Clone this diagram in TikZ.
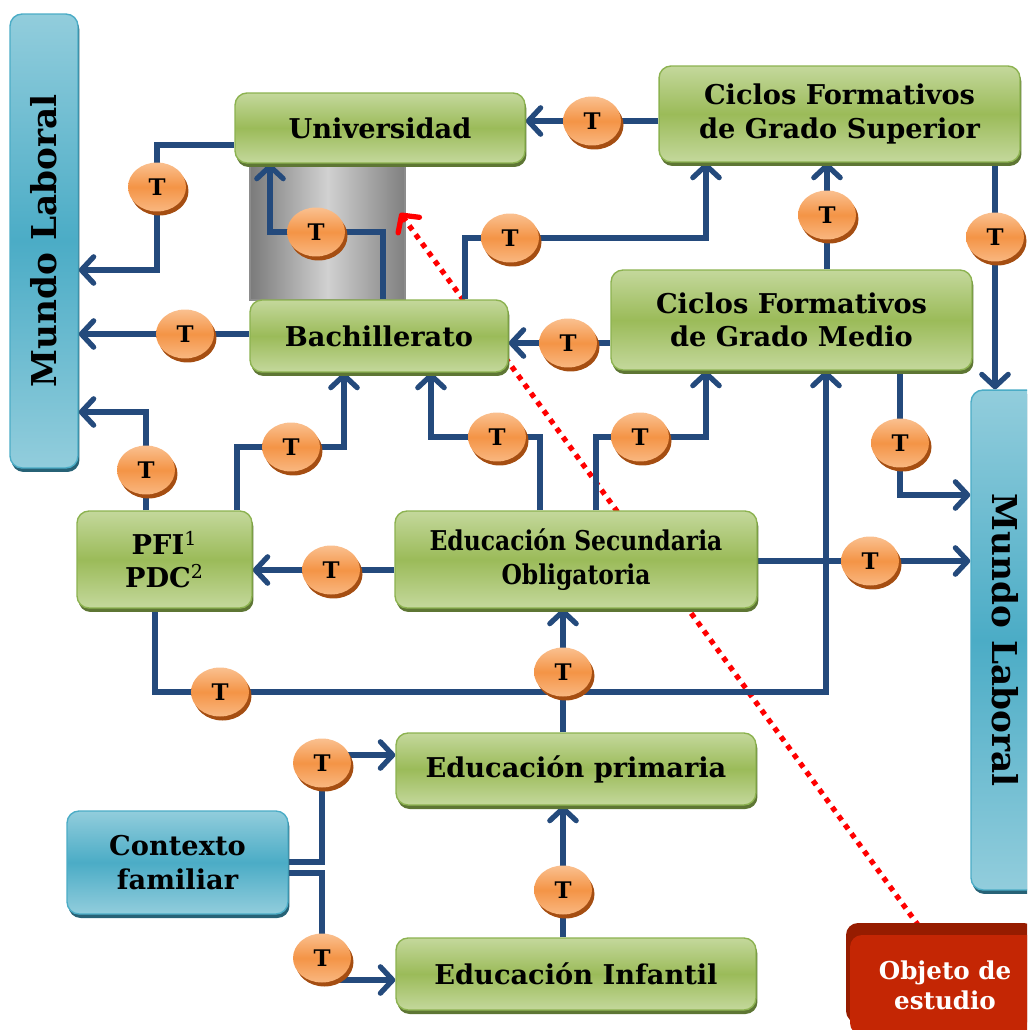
\documentclass[tikz,border=0pt]{standalone}
\usepackage{fontspec}
\setmainfont{DejaVu Serif}
\newfontfamily\tightserif{DejaVu Serif}[FakeStretch=0.86]
\usepackage{tikz}
\usetikzlibrary{arrows.meta,shapes.geometric,shadows}
\definecolor{linkblue}{RGB}{36,74,124}
\definecolor{greenlight}{RGB}{196,216,156}
\definecolor{greenmid}{RGB}{155,187,89}
\definecolor{greenedge}{RGB}{140,178,80}
\definecolor{greenshadow}{RGB}{94,118,52}
\definecolor{bluelight}{RGB}{146,205,220}
\definecolor{bluemid}{RGB}{75,172,198}
\definecolor{blueshadow}{RGB}{39,98,118}
\definecolor{orangelight}{RGB}{250,192,143}
\definecolor{orangemid}{RGB}{244,148,70}
\definecolor{orangeshadow}{RGB}{165,78,18}
\definecolor{studyred}{RGB}{196,38,4}
\definecolor{studyshadow}{RGB}{150,28,0}
\pgfdeclarelayer{bg}
\pgfdeclarelayer{links}
\pgfsetlayers{bg,links,main}
\tikzset{
  stage/.style={rectangle, rounded corners=0.24cm, draw=greenedge, line width=0.8pt,
    top color=greenlight, bottom color=greenlight, middle color=greenmid,
    drop shadow={shadow xshift=0.03cm, shadow yshift=-0.08cm, fill=greenshadow, opacity=1},
    align=center, font=\bfseries\fontsize{15.5pt}{19pt}\selectfont},
  world/.style={rectangle, rounded corners=0.24cm, draw=bluemid, line width=0.8pt,
    top color=bluelight, bottom color=bluelight, middle color=bluemid,
    drop shadow={shadow xshift=0.03cm, shadow yshift=-0.08cm, fill=blueshadow, opacity=1},
    align=center, font=\bfseries\fontsize{19.5pt}{22pt}\selectfont},
  famctx/.style={world, font=\bfseries\fontsize{15.5pt}{19pt}\selectfont},
  studybox/.style={rectangle, rounded corners=0.24cm, fill=studyred,
    drop shadow={shadow xshift=-0.08cm, shadow yshift=0.24cm, fill=studyshadow, opacity=1},
    text=white, align=center, font=\bfseries\fontsize{14pt}{17pt}\selectfont},
  tbadge/.style={ellipse, minimum width=1.16cm, minimum height=0.98cm, inner sep=0pt,
    top color=orangelight, bottom color=orangelight!80!orangemid, middle color=orangemid,
    drop shadow={shadow xshift=0.05cm, shadow yshift=-0.08cm, fill=orangeshadow, opacity=1},
    font=\bfseries\fontsize{13pt}{13pt}\selectfont},
  link/.style={draw=linkblue, line width=3pt, -{Straight Barb[length=7pt,width=15pt,round]}},
  studylink/.style={draw=red, line width=3pt, dash pattern=on 3pt off 3.2pt,
    -{Straight Barb[length=7pt,width=15pt,round]}}
}

\begin{document}
\begin{tikzpicture}[x=0.02cm, y=-0.02cm]
    \useasboundingbox (0,0) rectangle (1027,1030);
    \clip (0,0) rectangle (1027,1030);

    \node[world, minimum width=1.36cm, minimum height=9.08cm] (mlL) at (44,241) {\rotatebox{90}{Mundo Laboral}};
    \node[world, minimum width=1.36cm, minimum height=10cm] (mlR) at (1005,640) {\rotatebox{-90}{Mundo Laboral}};

    \node[stage, minimum width=5.8cm, minimum height=1.4cm] (univ) at (380,128) {Universidad};
    \node[stage, minimum width=7.22cm, minimum height=1.92cm] (cfgs) at (839.5,114) {Ciclos Formativos\\de Grado Superior};
    \node[stage, minimum width=5.16cm, minimum height=1.44cm] (bach) at (379,336) {Bachillerato};
    \node[stage, minimum width=7.22cm, minimum height=2cm] (cfgm) at (791.5,320) {Ciclos Formativos\\de Grado Medio};
    \node[stage, minimum width=3.5cm, minimum height=1.94cm] (pfi) at (164.5,559.5) {PFI\textsuperscript{\mdseries 1}\\PDC\textsuperscript{\mdseries 2}};
    \node[stage, minimum width=7.24cm, minimum height=1.94cm] (eso) at (576,559.5) {\tightserif\bfseries Educación Secundaria\\\tightserif\bfseries Obligatoria};
    \node[stage, minimum width=7.2cm, minimum height=1.44cm] (prim) at (576,769) {Educación primaria};
    \node[stage, minimum width=7.2cm, minimum height=1.44cm] (inf) at (576,974) {Educación Infantil};
    \node[famctx, minimum width=4.42cm, minimum height=2.06cm] (ctx) at (177.5,862.5) {Contexto\\familiar};
    \node[studybox, minimum width=3.8cm, minimum height=2cm] (obj) at (945,985) {Objeto de\\estudio};

    \node[tbadge] (b1) at (157,187) {T};
    \node[tbadge] (b2) at (316,232) {T};
    \node[tbadge] (b3) at (510,238) {T};
    \node[tbadge] (b4) at (592,121) {T};
    \node[tbadge] (b5) at (827,215) {T};
    \node[tbadge] (b6) at (995,237) {T};
    \node[tbadge] (b7) at (185,334) {T};
    \node[tbadge] (b8) at (568,343) {T};
    \node[tbadge] (b9) at (146,470) {T};
    \node[tbadge] (b10) at (291,447) {T};
    \node[tbadge] (b11) at (497,437) {T};
    \node[tbadge] (b12) at (640,437) {T};
    \node[tbadge] (b13) at (900,443) {T};
    \node[tbadge] (b14) at (331,570) {T};
    \node[tbadge] (b15) at (870,561) {T};
    \node[tbadge] (b16) at (220,692) {T};
    \node[tbadge] (b17) at (563,672) {T};
    \node[tbadge] (b18) at (322,763) {T};
    \node[tbadge] (b19) at (322,958) {T};
    \node[tbadge] (b20) at (563,890) {T};

    \coordinate (focus) at (400,213);

    \begin{pgfonlayer}{bg}
        \shade[left color=black!52, right color=black!50, middle color=black!18, draw=black!45, line width=0.6pt] (250,163) rectangle (405,300);
        \draw[studylink] (obj.north -| 925,0) -- (focus);
    \end{pgfonlayer}

    \begin{pgfonlayer}{links}
        \draw[link] (univ.west |- 0,145) -| (b1.center) |- (mlL.east |- 0,270);
        \draw[link] (bach.north -| 383,0) |- (b2.center) -| (univ.south -| 270,0);
        \draw[link] (bach.north -| 465,0) |- (b3.center) -| (cfgs.south -| 706,0);
        \draw[link] (cfgs.west |- b4) -- (univ.east |- b4);
        \draw[link] (cfgm.north -| b5) -- (cfgs.south -| b5);
        \draw[link] (cfgs.south -| b6) -- (mlR.north -| b6);
        \draw[link] (bach.west |- b7) -- (mlL.east |- b7);
        \draw[link] (cfgm.west |- b8) -- (bach.east |- b8);
        \draw[link] (pfi.north -| b9) -- (b9.center) |- (mlL.east |- 0,412);
        \draw[link] (pfi.north -| 237,0) |- (b10.center) -| (bach.south -| 344,0);
        \draw[link] (eso.north -| 540,0) |- (b11.center) -| (bach.south -| 431,0);
        \draw[link] (eso.north -| 596,0) |- (b12.center) -| (cfgm.south -| 706,0);
        \draw[link] (cfgm.south -| b13) -- (b13.center) |- (mlR.west |- 0,495);
        \draw[link] (eso.west |- b14) -- (pfi.east |- b14);
        \draw[link] (eso.east |- b15) -- (mlR.west |- b15);
        \draw[link] (pfi.south -| 155,0) |- (b16.center) -| (cfgm.south -| 826,0);
        \draw[link] (prim.north -| b17) -- (eso.south -| b17);
        \draw[link] (inf.north -| b20) -- (prim.south -| b20);
        \draw[link] (ctx.east |- 0,862) -| (b18.center) |- (prim.west |- 0,755);
        \draw[link] (ctx.east |- 0,873) -| (b19.center) |- (inf.west |- 0,980);
    \end{pgfonlayer}
\end{tikzpicture}
\end{document}
